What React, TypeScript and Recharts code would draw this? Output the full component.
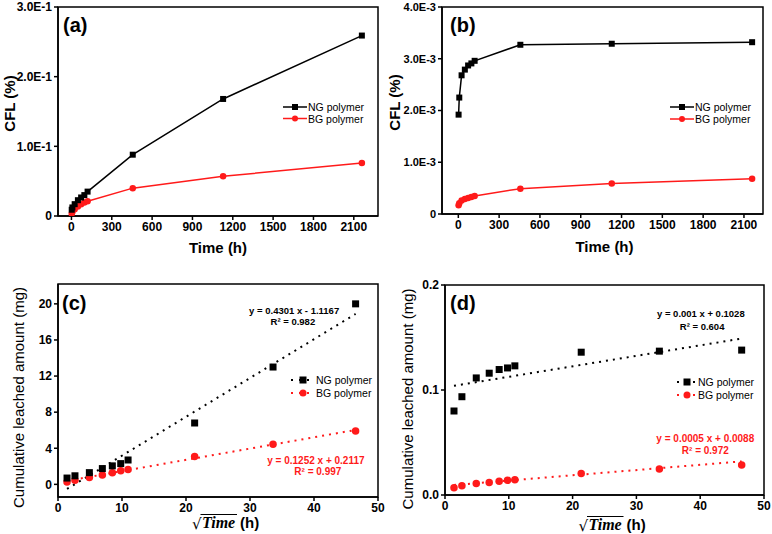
import { Legend, ReferenceArea, ReferenceDot, Scatter, ScatterChart, XAxis, YAxis } from 'recharts';

const FONT = 'Arial, "Liberation Sans", Helvetica, sans-serif';
const RED = '#ff1a1a';

// sampling times and their square roots as plotted
const timeHours = [2, 7, 24, 48, 72, 96, 120, 456, 1128, 2160];
const sqrtTime = [1.41, 2.65, 4.9, 6.93, 8.49, 9.8, 10.95, 21.35, 33.6, 46.5];

// (a) CFL %
const cflNg = [0.009, 0.0123, 0.017, 0.0227, 0.0266, 0.03, 0.035, 0.088, 0.168, 0.259];
const cflBg = [0.0032, 0.0058, 0.0097, 0.0135, 0.0168, 0.0193, 0.0213, 0.04, 0.057, 0.076];
// (b) CFL %
const cflNgLow = [0.00192, 0.00225, 0.00268, 0.00279, 0.00287, 0.00291, 0.00296, 0.00327, 0.00329, 0.00332];
const cflBgLow = [0.00017, 0.00021, 0.00026, 0.00029, 0.00031, 0.00033, 0.00035, 0.00049, 0.00059, 0.00068];
// (c) cumulative leached amount, mg
const leachNg = [0.7, 0.95, 1.3, 1.75, 2.05, 2.3, 2.7, 6.8, 13.0, 20.0];
const leachBg = [0.25, 0.45, 0.75, 1.05, 1.3, 1.5, 1.65, 3.1, 4.45, 5.9];
// (d) cumulative leached amount, mg
const leachNgLow = [0.08, 0.0936, 0.1115, 0.116, 0.1195, 0.121, 0.123, 0.136, 0.137, 0.138];
const leachBgLow = [0.007, 0.0087, 0.011, 0.012, 0.013, 0.014, 0.0145, 0.0205, 0.0247, 0.0285];

// linear fits, end points as drawn
const fitX = [1.41, 46.5];
const fitNgC = [-0.51, 18.88];
const fitBgC = [0.39, 6.03];
const fitNgD = [0.104, 0.149];
const fitBgD = [0.0095, 0.032];

const timeTicks = [0, 300, 600, 900, 1200, 1500, 1800, 2100];
const rootTicks = [0, 10, 20, 30, 40, 50];
const cflTicks = [0, 0.1, 0.2, 0.3];
const cflTickLabels = ['0', '1.0E-1', '2.0E-1', '3.0E-1'];
const cflLowTicks = [0, 0.001, 0.002, 0.003, 0.004];
const cflLowTickLabels = ['0', '1.0E-3', '2.0E-3', '3.0E-3', '4.0E-3'];
const leachTicks = [0, 4, 8, 12, 16, 20];
const leachTickLabels = ['0', '4', '8', '12', '16', '20'];
const leachLowTicks = [0, 0.1, 0.2];
const leachLowTickLabels = ['0.0', '0.1', '0.2'];

const seriesNames = ['NG polymer', 'BG polymer'];

const pairs = (xs: number[], ys: number[]) => xs.map((x, i) => ({ x, y: ys[i] }));

const squareShape = (size: number) => (p: any) => (
  <rect x={p.cx - size / 2} y={p.cy - size / 2} width={size} height={size} fill={p.fill} />
);
const circleShape = (size: number) => (p: any) => <circle cx={p.cx} cy={p.cy} r={size / 2} fill={p.fill} />;
const noShape = () => <g />;

const yTitle = (text: string, x: number, shift: number, bold: boolean) => (props: any) => {
  const vb = props.viewBox;
  const cy = vb.y + vb.height / 2 + shift;
  return (
    <text
      x={x}
      y={cy}
      transform={`rotate(-90, ${x}, ${cy})`}
      textAnchor="middle"
      dominantBaseline="central"
      fontFamily={FONT}
      fontSize={15}
      fontWeight={bold ? 'bold' : 'normal'}
      fill="#000"
    >
      {text}
    </text>
  );
};

const timeTitle = (dx: number, dy: number) => (props: any) => {
  const vb = props.viewBox;
  return (
    <text
      x={vb.x + vb.width / 2 + dx}
      y={vb.y + dy}
      textAnchor="middle"
      dominantBaseline="central"
      fontFamily={FONT}
      fontSize={15}
      fontWeight="bold"
      fill="#000"
    >
      Time (h)
    </text>
  );
};

// √Time (h), with the bar of the root drawn over "Time"
const rootTitle = (dx: number, dy: number) => (props: any) => {
  const vb = props.viewBox;
  const x0 = vb.x + vb.width / 2 + dx - 34;
  const base = vb.y + dy + 5;
  return (
    <g fill="#000">
      <text x={x0} y={base + 1} fontFamily='"DejaVu Sans", sans-serif' fontSize={15}>
        √
      </text>
      <line x1={x0 + 8.5} x2={x0 + 45} y1={base - 13.5} y2={base - 13.5} stroke="#000" strokeWidth={1.1} />
      <text
        x={x0 + 10}
        y={base}
        fontFamily='"Liberation Serif", serif'
        fontStyle="italic"
        fontWeight="bold"
        fontSize={16}
      >
        Time
      </text>
      <text x={x0 + 48} y={base} fontFamily={FONT} fontWeight="bold" fontSize={15}>
        (h)
      </text>
    </g>
  );
};

interface LegendSpec {
  left: number;
  top: number;
  lineTo: number;
  markAt: number;
  textX: number;
  gap: number;
  dotted: boolean;
  mark: number;
}

const legendContent = (spec: LegendSpec) => () => (
  <svg width={spec.textX + 60} height={spec.gap + 12} style={{ display: 'block' }}>
    {seriesNames.map((name, i) => {
      const color = i === 0 ? '#000' : RED;
      const y = 6 + i * spec.gap;
      return (
        <g key={name}>
          <line
            x1={0}
            x2={spec.lineTo}
            y1={y}
            y2={y}
            stroke={color}
            strokeWidth={spec.dotted ? 2 : 1.5}
            strokeDasharray={spec.dotted ? '2 6' : undefined}
          />
          {i === 0 ? (
            <rect x={spec.markAt - spec.mark / 2} y={y - spec.mark / 2} width={spec.mark} height={spec.mark} fill={color} />
          ) : (
            <circle cx={spec.markAt} cy={y} r={spec.mark / 2} fill={color} />
          )}
          <text x={spec.textX} y={y} dominantBaseline="central" fontFamily={FONT} fontSize={10.5} fill="#000">
            {name}
          </text>
        </g>
      );
    })}
  </svg>
);

interface Note {
  x: number;
  y: number;
  text: string;
  color: string;
  size: number;
}

interface PanelProps {
  left: number;
  top: number;
  width: number;
  height: number;
  margin: { top: number; right: number; left: number; bottom: number };
  yWidth: number;
  xHeight: number;
  xDomain: [number, number];
  xTicks: number[];
  yDomain: [number, number];
  yTicks: number[];
  yTickLabels: string[];
  yTickSize?: number;
  ng: { x: number; y: number }[];
  bg: { x: number; y: number }[];
  fits?: { x: number; y: number }[][];
  joined: boolean;
  mark: number;
  yLabel: (props: any) => JSX.Element;
  xLabel: (props: any) => JSX.Element;
  tag: string;
  tagX: number;
  tagY: number;
  legend: LegendSpec;
  notes?: Note[];
}

function Panel(p: PanelProps) {
  const tickStyle = { fill: '#000', fontSize: 12, fontWeight: 'bold', fontFamily: FONT };
  const axisStroke = { stroke: '#000', strokeWidth: 1.5 };
  return (
    <div style={{ position: 'absolute', left: p.left, top: p.top, width: p.width, height: p.height }}>
      <ScatterChart width={p.width} height={p.height} margin={p.margin}>
        <XAxis
          type="number"
          dataKey="x"
          domain={p.xDomain}
          ticks={p.xTicks}
          interval={0}
          allowDataOverflow
          height={p.xHeight}
          tick={tickStyle}
          tickSize={4}
          tickMargin={2}
          axisLine={axisStroke}
          tickLine={axisStroke}
          label={p.xLabel}
        />
        <YAxis
          type="number"
          dataKey="y"
          domain={p.yDomain}
          ticks={p.yTicks}
          interval={0}
          allowDataOverflow
          width={p.yWidth}
          tick={{ ...tickStyle, fontSize: p.yTickSize ?? 12 }}
          tickSize={4}
          tickMargin={2}
          axisLine={axisStroke}
          tickLine={axisStroke}
          tickFormatter={(v: number) => p.yTickLabels[p.yTicks.indexOf(v)] ?? String(v)}
          label={p.yLabel}
        />
        <ReferenceArea
          x1={p.xDomain[0]}
          x2={p.xDomain[1]}
          y1={p.yDomain[0]}
          y2={p.yDomain[1]}
          fill="none"
          fillOpacity={0}
          stroke="#000"
          strokeWidth={1.5}
          ifOverflow="visible"
        />
        {(p.fits ?? []).map((fit, i) => (
          <Scatter
            key={`fit${i}`}
            data={fit}
            fill={i === 0 ? '#000' : RED}
            shape={noShape}
            line={{ stroke: i === 0 ? '#000' : RED, strokeWidth: 2, strokeDasharray: '2 5' }}
            isAnimationActive={false}
          />
        ))}
        <Scatter
          data={p.bg}
          fill={RED}
          shape={circleShape(p.mark + 0.5)}
          line={p.joined ? { stroke: RED, strokeWidth: 1.5 } : false}
          isAnimationActive={false}
        />
        <Scatter
          data={p.ng}
          fill="#000"
          shape={squareShape(p.mark)}
          line={p.joined ? { stroke: '#000', strokeWidth: 1.5 } : false}
          isAnimationActive={false}
        />
        {(p.notes ?? []).map((n, i) => (
          <ReferenceDot
            key={`note${i}`}
            x={n.x}
            y={n.y}
            r={0}
            ifOverflow="visible"
            label={{
              value: n.text,
              position: 'center',
              fill: n.color,
              fontSize: n.size,
              fontWeight: 'bold',
              fontFamily: FONT,
            }}
          />
        ))}
        <Legend
          layout="vertical"
          align="center"
          verticalAlign="middle"
          content={legendContent(p.legend)}
          wrapperStyle={{ left: p.legend.left, top: p.legend.top, width: 'auto', height: 'auto' }}
        />
      </ScatterChart>
      <div
        style={{
          position: 'absolute',
          left: p.tagX,
          top: p.tagY,
          fontFamily: FONT,
          fontWeight: 'bold',
          fontSize: 20,
          lineHeight: '20px',
        }}
      >
        {p.tag}
      </div>
    </div>
  );
}

export default function App() {
  return (
    <div style={{ position: 'absolute', left: 0, top: 0, width: 772, height: 534, background: '#fff' }}>
      <Panel
        left={0}
        top={0}
        width={390}
        height={267}
        margin={{ top: 7, right: 12, left: 0, bottom: 0 }}
        yWidth={58}
        xHeight={51}
        xDomain={[-100, 2280]}
        xTicks={timeTicks}
        yDomain={[0, 0.3]}
        yTicks={cflTicks}
        yTickLabels={cflTickLabels}
        ng={pairs(timeHours, cflNg)}
        bg={pairs(timeHours, cflBg)}
        joined
        mark={6}
        yLabel={yTitle('CFL (%)', 9, -8, true)}
        xLabel={timeTitle(0, 31)}
        tag="(a)"
        tagX={63}
        tagY={15}
        legend={{ left: 283, top: 101, lineTo: 24, markAt: 12, textX: 25, gap: 11.5, dotted: false, mark: 6 }}
      />
      <Panel
        left={380}
        top={0}
        width={392}
        height={267}
        margin={{ top: 7, right: 9, left: 0, bottom: 0 }}
        yWidth={62}
        xHeight={53}
        xDomain={[-120, 2240]}
        xTicks={timeTicks}
        yDomain={[0, 0.004]}
        yTicks={cflLowTicks}
        yTickLabels={cflLowTickLabels}
        yTickSize={11}
        ng={pairs(timeHours, cflNgLow)}
        bg={pairs(timeHours, cflBgLow)}
        joined
        mark={6}
        yLabel={yTitle('CFL (%)', 14, -8, true)}
        xLabel={timeTitle(2, 32)}
        tag="(b)"
        tagX={70}
        tagY={15}
        legend={{ left: 290, top: 101, lineTo: 24, markAt: 12, textX: 25, gap: 12, dotted: false, mark: 6 }}
      />
      <Panel
        left={0}
        top={260}
        width={390}
        height={274}
        margin={{ top: 24, right: 12, left: 0, bottom: 0 }}
        yWidth={58}
        xHeight={37}
        xDomain={[0, 50]}
        xTicks={rootTicks}
        yDomain={[-1.4, 22.2]}
        yTicks={leachTicks}
        yTickLabels={leachTickLabels}
        ng={pairs(sqrtTime, leachNg)}
        bg={pairs(sqrtTime, leachBg)}
        fits={[pairs(fitX, fitNgC), pairs(fitX, fitBgC)]}
        joined={false}
        mark={7}
        yLabel={yTitle('Cumulative leached amount (mg)', 18, 7, false)}
        xLabel={rootTitle(8, 26)}
        tag="(c)"
        tagX={62}
        tagY={33}
        legend={{ left: 291, top: 114, lineTo: 22, markAt: 12, textX: 25, gap: 13, dotted: true, mark: 7 }}
        notes={[
          { x: 36.9, y: 19.2, text: 'y = 0.4301 x - 1.1167', color: '#000', size: 9.5 },
          { x: 36.7, y: 18.0, text: 'R² = 0.982', color: '#000', size: 9.5 },
          { x: 40.3, y: 2.65, text: 'y = 0.1252 x + 0.2117', color: RED, size: 10 },
          { x: 40.6, y: 1.45, text: 'R² = 0.997', color: RED, size: 10 },
        ]}
      />
      <Panel
        left={390}
        top={260}
        width={382}
        height={274}
        margin={{ top: 25, right: 8, left: 0, bottom: 0 }}
        yWidth={55}
        xHeight={39}
        xDomain={[0, 50]}
        xTicks={rootTicks}
        yDomain={[0, 0.2]}
        yTicks={leachLowTicks}
        yTickLabels={leachLowTickLabels}
        ng={pairs(sqrtTime, leachNgLow)}
        bg={pairs(sqrtTime, leachBgLow)}
        fits={[pairs(fitX, fitNgD), pairs(fitX, fitBgD)]}
        joined={false}
        mark={7}
        yLabel={yTitle('Cumulative leached amount (mg)', 17, 9, false)}
        xLabel={rootTitle(8, 30)}
        tag="(d)"
        tagX={60}
        tagY={33}
        legend={{ left: 287, top: 116, lineTo: 20, markAt: 10, textX: 21, gap: 13, dotted: true, mark: 7 }}
        notes={[
          { x: 40.1, y: 0.1724, text: 'y = 0.001 x + 0.1028', color: '#000', size: 9.5 },
          { x: 40.3, y: 0.16, text: 'R² = 0.604', color: '#000', size: 9.5 },
          { x: 40.8, y: 0.0543, text: 'y = 0.0005 x + 0.0088', color: RED, size: 10 },
          { x: 40.8, y: 0.0429, text: 'R² = 0.972', color: RED, size: 10 },
        ]}
      />
    </div>
  );
}
